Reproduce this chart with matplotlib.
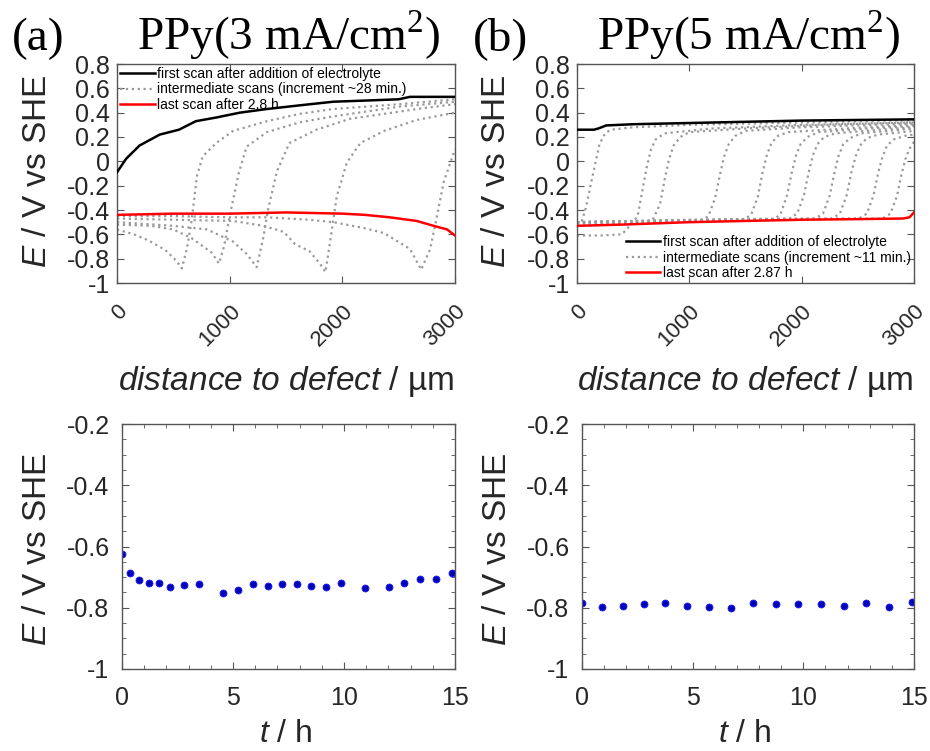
import matplotlib
matplotlib.use('Agg')
import matplotlib.pyplot as plt
from matplotlib.ticker import MultipleLocator

plt.rcParams['font.family'] = 'Liberation Sans'
plt.rcParams['mathtext.fontset'] = 'custom'
plt.rcParams['mathtext.rm'] = 'Liberation Serif'
plt.rcParams['mathtext.it'] = 'Liberation Sans:italic'

# ---- panel (a): PPy 3 mA/cm2, line scans ----
a_first_x = [0, 80, 200, 380, 550, 700, 880, 1090, 1330, 1620, 1920, 2220, 2500, 2600, 3000]
a_first_y = [-0.09, 0.02, 0.13, 0.22, 0.26, 0.33, 0.36, 0.40, 0.43, 0.46, 0.49, 0.50, 0.51, 0.53, 0.53]

a_last_x = [0, 500, 1000, 1500, 2000, 2200, 2420, 2660, 2810, 2930, 3000]
a_last_y = [-0.44, -0.43, -0.43, -0.42, -0.43, -0.44, -0.46, -0.49, -0.53, -0.56, -0.61]

a_mid_x = [
    [0, 150, 280, 430, 530, 575, 620, 660, 710, 760, 880, 1030, 1330, 1620, 1920, 2220, 2510, 3000],
    [0, 300, 500, 660, 840, 905, 950, 1000, 1080, 1150, 1330, 1620, 1920, 2220, 2510, 3000],
    [0, 500, 800, 1030, 1150, 1240, 1300, 1340, 1420, 1530, 1770, 2070, 2370, 2660, 3000],
    [0, 500, 1030, 1300, 1480, 1580, 1710, 1800, 1850, 1900, 1950, 2040, 2160, 2370, 2660, 3000],
    [0, 500, 1000, 1330, 1700, 1920, 2200, 2370, 2600, 2700, 2780, 2840, 2900, 3000],
]
a_mid_y = [
    [-0.56, -0.60, -0.65, -0.73, -0.82, -0.88, -0.72, -0.50, -0.12, 0.04, 0.15, 0.25, 0.33, 0.39, 0.43, 0.45, 0.47, 0.51],
    [-0.52, -0.53, -0.56, -0.63, -0.75, -0.84, -0.70, -0.45, -0.10, 0.12, 0.24, 0.32, 0.37, 0.41, 0.45, 0.49],
    [-0.50, -0.53, -0.56, -0.66, -0.76, -0.87, -0.62, -0.40, -0.08, 0.15, 0.26, 0.35, 0.39, 0.43, 0.47],
    [-0.47, -0.48, -0.49, -0.53, -0.58, -0.68, -0.74, -0.84, -0.91, -0.61, -0.29, -0.01, 0.15, 0.25, 0.34, 0.40],
    [-0.45, -0.45, -0.46, -0.46, -0.48, -0.50, -0.55, -0.59, -0.72, -0.89, -0.72, -0.45, -0.17, 0.10],
]

# ---- panel (b): PPy 5 mA/cm2, line scans ----
b_first_x = [0, 150, 190, 260, 500, 1000, 1500, 2000, 2500, 3000]
b_first_y = [0.26, 0.26, 0.27, 0.295, 0.305, 0.315, 0.325, 0.335, 0.34, 0.345]

b_last_x = [0, 400, 1000, 1500, 2000, 2500, 2900, 2960, 3000]
b_last_y = [-0.53, -0.52, -0.50, -0.49, -0.48, -0.475, -0.47, -0.46, -0.42]

b_mid_x = [
    [0, 40, 80, 120, 160, 200, 250, 300, 500, 1000, 2000, 3000],
    [0, 200, 400, 470, 540, 580, 620, 660, 700, 780, 1200, 2000, 3000],
    [0, 300, 600, 680, 740, 780, 820, 860, 920, 1000, 1500, 2200, 3000],
    [0, 600, 1100, 1170, 1230, 1270, 1310, 1350, 1410, 1500, 2000, 3000],
    [0, 800, 1480, 1550, 1610, 1650, 1690, 1730, 1790, 1880, 2400, 3000],
    [0, 900, 1740, 1810, 1870, 1910, 1950, 1990, 2050, 2150, 2600, 3000],
    [0, 1000, 1890, 1960, 2020, 2060, 2100, 2140, 2200, 2300, 2700, 3000],
    [0, 1200, 2120, 2190, 2250, 2290, 2330, 2370, 2430, 2530, 3000],
    [0, 1300, 2270, 2340, 2400, 2440, 2480, 2520, 2580, 2680, 3000],
    [0, 1400, 2510, 2580, 2640, 2680, 2720, 2760, 2820, 2920, 3000],
    [0, 1500, 2720, 2790, 2850, 2890, 2930, 2970, 3000],
]
b_mid_y = [
    [-0.52, -0.50, -0.38, -0.20, -0.03, 0.14, 0.23, 0.26, 0.28, 0.30, 0.32, 0.34],
    [-0.61, -0.61, -0.60, -0.53, -0.45, -0.25, -0.05, 0.10, 0.18, 0.23, 0.27, 0.30, 0.32],
    [-0.53, -0.52, -0.51, -0.47, -0.35, -0.15, 0.02, 0.13, 0.20, 0.24, 0.27, 0.30, 0.32],
    [-0.51, -0.50, -0.49, -0.45, -0.30, -0.12, 0.04, 0.14, 0.21, 0.25, 0.28, 0.31],
    [-0.51, -0.49, -0.48, -0.44, -0.29, -0.10, 0.05, 0.15, 0.21, 0.24, 0.27, 0.30],
    [-0.50, -0.49, -0.48, -0.44, -0.28, -0.10, 0.05, 0.14, 0.20, 0.24, 0.27, 0.29],
    [-0.50, -0.48, -0.47, -0.43, -0.28, -0.10, 0.05, 0.14, 0.20, 0.23, 0.26, 0.28],
    [-0.50, -0.48, -0.47, -0.43, -0.28, -0.10, 0.05, 0.14, 0.19, 0.23, 0.27],
    [-0.50, -0.48, -0.47, -0.43, -0.28, -0.10, 0.04, 0.13, 0.19, 0.22, 0.25],
    [-0.50, -0.48, -0.47, -0.43, -0.28, -0.10, 0.04, 0.13, 0.18, 0.21, 0.22],
    [-0.50, -0.48, -0.47, -0.43, -0.28, -0.10, 0.04, 0.12, 0.16],
]

# ---- potential at defect vs time ----
c_t = [0, 0.36, 0.78, 1.2, 1.67, 2.18, 2.81, 3.47, 4.55, 5.21, 5.91, 6.57, 7.2, 7.87,
       8.51, 9.19, 9.88, 10.93, 12.01, 12.7, 13.42, 14.14, 14.85]
c_E = [-0.623, -0.685, -0.710, -0.720, -0.720, -0.733, -0.727, -0.724, -0.753, -0.741, -0.722,
       -0.730, -0.724, -0.724, -0.729, -0.731, -0.720, -0.737, -0.733, -0.718, -0.707, -0.705, -0.685]

d_t = [0, 0.89, 1.83, 2.79, 3.77, 4.74, 5.74, 6.73, 7.74, 8.78, 9.77, 10.81, 11.82, 12.85, 13.87, 14.89]
d_E = [-0.785, -0.796, -0.793, -0.788, -0.784, -0.794, -0.798, -0.800, -0.785, -0.787, -0.787,
       -0.787, -0.794, -0.784, -0.798, -0.781]

TXT = '#262626'
W, H = 930, 751


def rect(x0, y0, x1, y1):
    return [x0 / W, 1 - y1 / H, (x1 - x0) / W, (y1 - y0) / H]


def style(ax, minor=False):
    for s in ax.spines.values():
        s.set_color('#555555')
        s.set_linewidth(1.0)
    ax.tick_params(which='both', direction='in', top=True, right=True,
                   colors='#555555', labelcolor=TXT, labelsize=18)
    ax.tick_params(which='major', length=5)
    ax.tick_params(which='minor', length=3)
    if not minor:
        ax.minorticks_off()


fig = plt.figure(figsize=(9.3, 7.51), dpi=100)

ax_a = fig.add_axes(rect(117, 64, 455, 283))
ax_b = fig.add_axes(rect(577, 64, 914, 283))
ax_c = fig.add_axes(rect(122, 424, 455, 669))
ax_d = fig.add_axes(rect(582, 424, 914, 669))

dot_kw = dict(color='#9a9a9a', linestyle=':', linewidth=1.6)

for ax, fx, fy, mx, my, lx, ly, leg in [
        (ax_a, a_first_x, a_first_y, a_mid_x, a_mid_y, a_last_x, a_last_y,
         ['first scan after addition of electrolyte', 'intermediate scans (increment ~28 min.)',
          'last scan after 2.8 h']),
        (ax_b, b_first_x, b_first_y, b_mid_x, b_mid_y, b_last_x, b_last_y,
         ['first scan after addition of electrolyte', 'intermediate scans (increment ~11 min.)',
          'last scan after 2.87 h'])]:
    h1, = ax.plot(fx, fy, color='black', linewidth=1.8, zorder=4)
    for xs, ys in zip(mx, my):
        h2, = ax.plot(xs, ys, **dot_kw)
    h3, = ax.plot(lx, ly, color='red', linewidth=1.8, zorder=4)
    ax.set_xlim(0, 3000)
    ax.set_ylim(-1, 0.8)
    ax.set_xticks([0, 1000, 2000, 3000])
    ax.set_yticks([-1, -0.8, -0.6, -0.4, -0.2, 0, 0.2, 0.4, 0.6, 0.8])
    ax.set_yticklabels(['-1', '-0.8', '-0.6', '-0.4', '-0.2', '0', '0.2', '0.4', '0.6', '0.8'])
    style(ax)
    ax.tick_params(axis='y', pad=5)
    ax.tick_params(axis='x', pad=13, labelsize=16)
    for lab in ax.get_xticklabels():
        lab.set_rotation(45)
        lab.set_ha('right')
        lab.set_va('top')
        lab.set_rotation_mode('anchor')
    ax.set_xlabel(r'$\mathit{distance\ to\ defect}$ / µm', fontsize=24, color=TXT)
    ax.xaxis.set_label_coords(0.5, -0.37)
    ax.set_ylabel(r'$\mathit{E}$ / V vs SHE', fontsize=24, color=TXT)
    if ax is ax_a:
        ax.legend([h1, h2, h3], leg, loc='upper left', bbox_to_anchor=(0.0, 1.0),
                  frameon=False, fontsize=10, handlelength=2.5, handletextpad=0.2,
                  labelspacing=0.12, borderaxespad=0.1, borderpad=0.1)
        ax.yaxis.set_label_coords(-0.19, 0.51)
    else:
        ax.legend([h1, h2, h3], leg, loc='lower right', bbox_to_anchor=(1.0, 0.0),
                  frameon=False, fontsize=10, handlelength=2.5, handletextpad=0.2,
                  labelspacing=0.12, borderaxespad=0.1, borderpad=0.1)
        ax.yaxis.set_label_coords(-0.193, 0.51)

for ax, t, e in [(ax_c, c_t, c_E), (ax_d, d_t, d_E)]:
    ax.plot(t, e, linestyle='none', marker='o', markersize=5,
            markerfacecolor='#0000b4', markeredgecolor='#1a1aff', markeredgewidth=0.6)
    ax.set_xlim(0, 15)
    ax.set_ylim(-1, -0.2)
    ax.set_xticks([0, 5, 10, 15])
    ax.set_yticks([-1, -0.8, -0.6, -0.4, -0.2])
    ax.set_yticklabels(['-1', '-0.8', '-0.6', '-0.4', '-0.2'])
    ax.xaxis.set_minor_locator(MultipleLocator(1))
    ax.yaxis.set_minor_locator(MultipleLocator(0.05))
    style(ax, minor=True)
    ax.tick_params(axis='y', which='major', pad=9)
    ax.tick_params(axis='x', which='major', pad=12)
    ax.set_xlabel(r'$\mathit{t}$ / h', fontsize=23, color=TXT)
    ax.xaxis.set_label_coords(0.49, -0.205)
    ax.set_ylabel(r'$\mathit{E}$ / V vs SHE', fontsize=24, color=TXT)
    ax.yaxis.set_label_coords(-0.207, 0.49)

# panel titles
serif = 'Liberation Serif'
fig.text(12 / W, 1 - 50 / H, '(a)', fontsize=34, family=serif, color='black')
fig.text(137 / W, 1 - 50 / H, r'PPy(3 mA/cm$^{2}$)', fontsize=34, family=serif, color='black')
fig.text(473 / W, 1 - 50 / H, '(b)', fontsize=34, family=serif, color='black')
fig.text(597 / W, 1 - 50 / H, r'PPy(5 mA/cm$^{2}$)', fontsize=34, family=serif, color='black')

fig.savefig('out.png', dpi=100)
